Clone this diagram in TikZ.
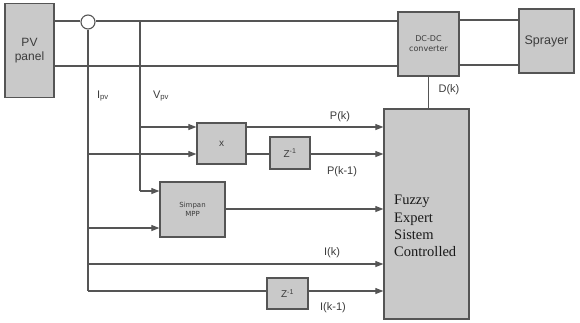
\documentclass[tikz,border=0pt]{standalone}
\usepackage{fontspec}
\setmainfont{Liberation Sans}
\newfontfamily\serifed{Liberation Serif}
\newfontfamily\widesans{DejaVu Sans}
\usetikzlibrary{arrows.meta, positioning}
\definecolor{boxgray}{RGB}{201,201,201}
\definecolor{linegray}{RGB}{85,85,85}
\definecolor{txtgray}{RGB}{60,60,60}

\begin{document}
\begin{tikzpicture}[x=1pt, y=-1pt, >={Triangle[length=8pt,width=6pt]},
    block/.style={draw=linegray, line width=1.3pt, fill=boxgray, text=txtgray, inner sep=0pt, align=center},
    wire/.style={draw=linegray, line width=1.1pt},
    lbl/.style={text=txtgray, font=\fontsize{11}{13}\selectfont, inner sep=0pt}]
    \useasboundingbox (0,0) rectangle (580,322);

    % blocks
    \node[block, minimum width=49pt, minimum height=94pt, font=\fontsize{12}{14}\selectfont] (pv) at (29.5,50.5) {PV\\panel};
    \node[block, minimum width=61pt, minimum height=64pt, font=\widesans\fontsize{8}{10}\selectfont] (dc) at (428.5,44) {DC-DC\\converter};
    \node[block, minimum width=55pt, minimum height=64pt, font=\fontsize{12.5}{14}\selectfont] (spray) at (546.5,41) {Sprayer};
    \node[block, minimum width=85pt, minimum height=210pt] (fuzzy) at (426.5,214) {};
    \node[text=black!90, anchor=west, align=left, inner sep=0pt, font=\serifed\fontsize{14.5}{17.3}\selectfont] (fuzzytxt) at (394,226) {Fuzzy\\Expert\\Sistem\\Controlled};
    \node[block, minimum width=49pt, minimum height=41pt, font=\fontsize{10}{10}\selectfont] (mult) at (221.5,143.5) {x};
    \node[block, minimum width=40pt, minimum height=32pt, font=\fontsize{10}{10}\selectfont] (zp) at (290,153) {Z\textsuperscript{-1}};
    \node[block, minimum width=65pt, minimum height=55pt, font=\widesans\fontsize{7}{9}\selectfont] (mpp) at (192.5,209.5) {Simpan\\MPP};
    \node[block, minimum width=41pt, minimum height=31pt, font=\fontsize{10}{10}\selectfont] (zi) at (287.5,293.5) {Z\textsuperscript{-1}};

    % current sensor and branch points
    \node[draw=linegray, line width=1.1pt, fill=white, circle, minimum size=14pt, inner sep=0pt] (sense) at (88,22) {};
    \coordinate (vtap) at (140,21);
    \coordinate (itap) at (88,291);

    % power wires
    \draw[wire] (pv.east |- 0,21) -- (sense.west |- 0,21);
    \draw[wire] (sense.east |- 0,21) -- (dc.west |- 0,21);
    \draw[wire] (pv.east |- 0,66) -- (dc.west |- 0,66);
    \draw[wire] (dc.east |- 0,20) -- (spray.west |- 0,20);
    \draw[wire] (dc.east |- 0,65) -- (spray.west |- 0,65);
    \draw[wire] (dc.south) -- (fuzzy.north -| dc.south);

    % measurement lines
    \draw[wire] (sense.south) -- (itap);
    \draw[wire] (vtap) -- (vtap |- 0,191);
    \draw[wire, ->] (vtap |- 0,127) -- (mult.west |- 0,127);
    \draw[wire, ->] (itap |- 0,154) -- (mult.west |- 0,154);
    \draw[wire, ->] (vtap |- 0,191) -- (mpp.west |- 0,191);
    \draw[wire, ->] (itap |- 0,228) -- (mpp.west |- 0,228);
    \draw[wire, ->] (mult.east |- 0,127) -- (fuzzy.west |- 0,127);
    \draw[wire] (mult.east |- 0,154) -- (zp.west |- 0,154);
    \draw[wire, ->] (zp.east |- 0,154) -- (fuzzy.west |- 0,154);
    \draw[wire, ->] (mpp.east |- 0,209) -- (fuzzy.west |- 0,209);
    \draw[wire, ->] (itap |- 0,264) -- (fuzzy.west |- 0,264);
    \draw[wire] (itap) -- (zi.west |- itap);
    \draw[wire, ->] (zi.east |- itap) -- (fuzzy.west |- itap);

    % labels
    \node[lbl] (ipv) at (103,96) {I\textsubscript{pv}};
    \node[lbl] (vpv) at (161,96) {V\textsubscript{pv}};
    \node[lbl] (dk) at (449,90) {D(k)};
    \node[lbl] (pk) at (340,117) {P(k)};
    \node[lbl] (pk1) at (342,172) {P(k-1)};
    \node[lbl] (ik) at (332,253) {I(k)};
    \node[lbl] (ik1) at (333,308) {I(k-1)};
\end{tikzpicture}
\end{document}
